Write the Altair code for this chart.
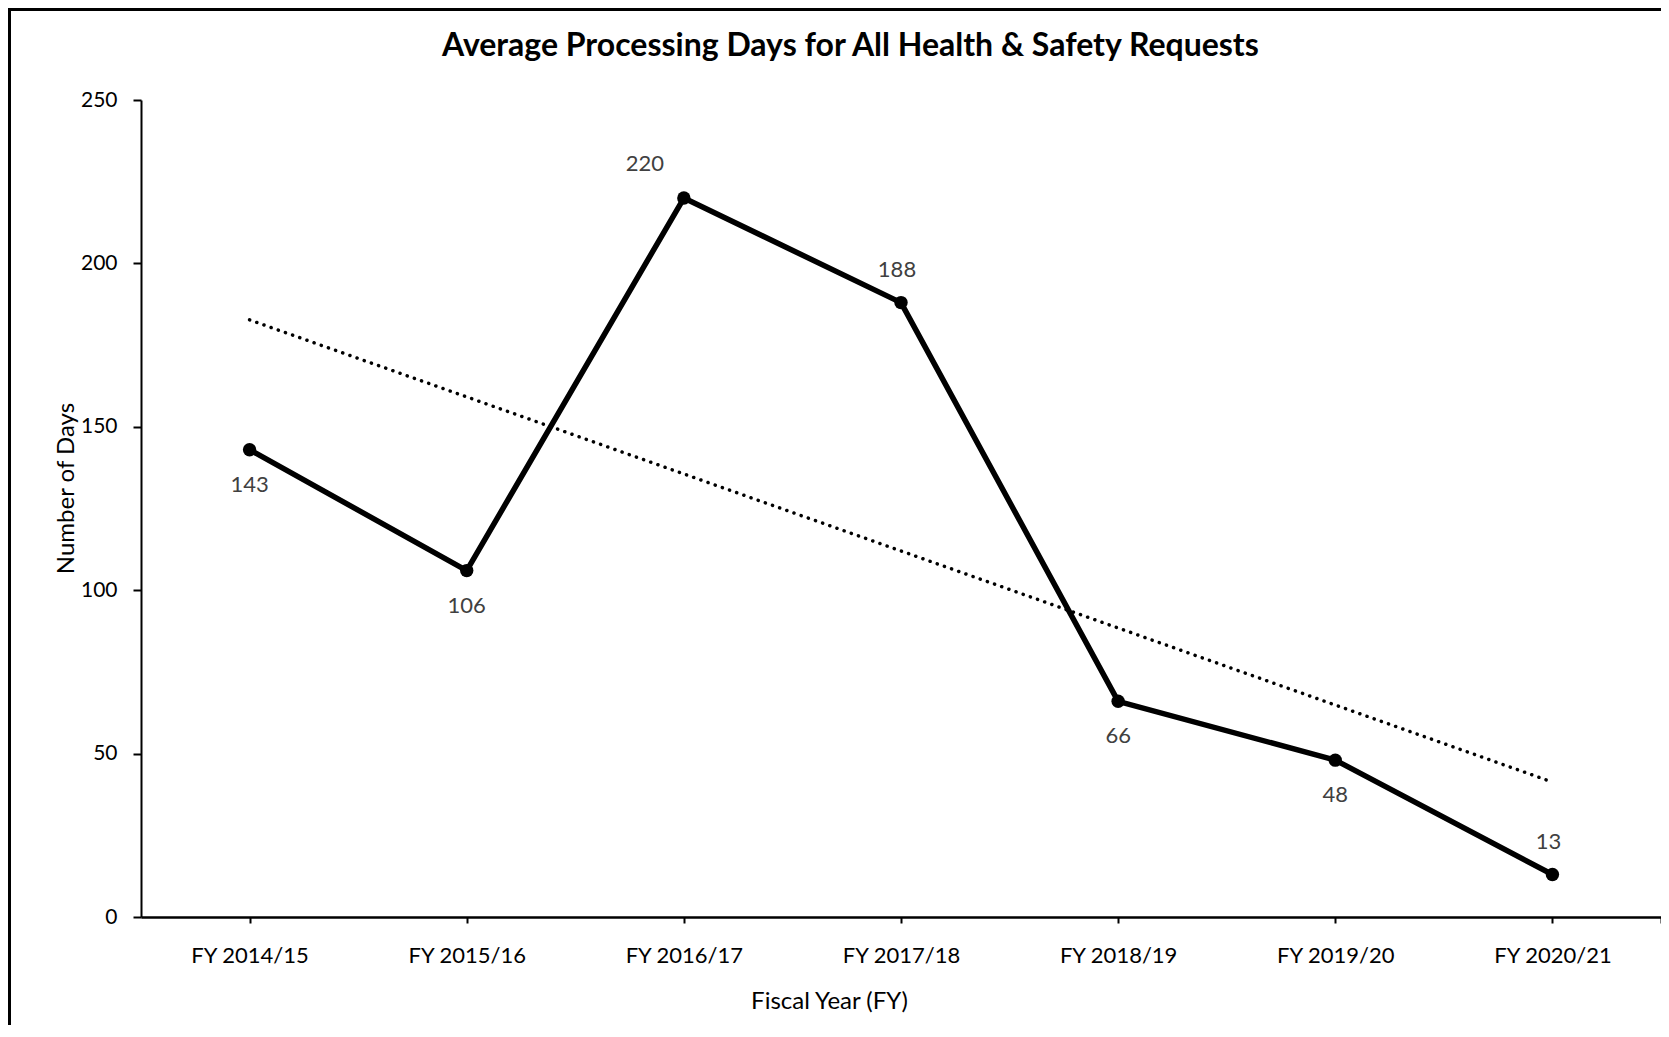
import json
import altair as alt
import pandas as pd

# ---- data ----
chart_title = "Average Processing Days for All Health & Safety Requests"
fiscal_years = ["FY 2014/15", "FY 2015/16", "FY 2016/17", "FY 2017/18",
                "FY 2018/19", "FY 2019/20", "FY 2020/21"]
avg_days = [143, 106, 220, 188, 66, 48, 13]
label_place = ["below", "below", "above-left", "above", "below", "below", "above"]
y_ticks = [0, 50, 100, 150, 200, 250]

df = pd.DataFrame({
    "idx": list(range(len(fiscal_years))),
    "fy": fiscal_years,
    "days": avg_days,
    "place": label_place,
})

FONT = "Lato"
W, H = 1520, 817
PAD_L, PAD_T, PAD_R, PAD_B = 133, 92, 0, 108
n = len(fiscal_years)

label_expr = (f"datum.value > {n - 1} ? '' : "
              f"{json.dumps(fiscal_years)}[datum.value]")

x_enc = alt.X(
    "idx:Q",
    scale=alt.Scale(domain=[-0.5, n - 0.5], nice=False, zero=False),
    axis=alt.Axis(
        title="Fiscal Year (FY)",
        values=list(range(n)) + [n - 0.5],
        labelExpr=label_expr,
        grid=False,
        domainColor="black", domainWidth=2.5,
        tickColor="black", tickWidth=2, tickSize=6,
        labelFont=FONT, labelFontSize=22, labelColor="black",
        labelPadding=39, labelBaseline="alphabetic",
        labelFlush=False, labelOverlap=False,
        titleFont=FONT, titleFontSize=24, titleFontWeight="normal",
        titleColor="black", titleX=688, titleY=91,
        titleBaseline="alphabetic", titleAlign="center",
    ),
)

y_enc = alt.Y(
    "days:Q",
    scale=alt.Scale(domain=[0, 250], nice=False, zero=True),
    axis=alt.Axis(
        title="Number of Days",
        values=y_ticks,
        grid=False,
        domainColor="black", domainWidth=2,
        tickColor="black", tickWidth=2, tickSize=8,
        labelFont=FONT, labelFontSize=21, labelColor="black",
        labelPadding=16,
        titleFont=FONT, titleFontSize=24, titleFontWeight="normal",
        titleColor="black", titleAngle=270, titleX=-68, titleY=388,
        titleBaseline="alphabetic", titleAlign="center",
    ),
)

base = alt.Chart(df)
one_row = pd.DataFrame({"k": [0]})

border = alt.Chart(one_row).mark_rect(
    fillOpacity=0, stroke="black", strokeWidth=3
).encode(
    x=alt.value(-PAD_L + 1.5), x2=alt.value(W + 60),
    y=alt.value(-PAD_T + 1.5), y2=alt.value(H + 300),
)

title = alt.Chart(one_row).mark_text(
    text=chart_title, font=FONT, fontSize=32, fontWeight="bold",
    color="black", align="left", baseline="alphabetic"
).encode(x=alt.value(301), y=alt.value(-44))

trend = base.transform_regression("idx", "days").mark_line(
    color="black", strokeWidth=3.5, strokeDash=[0.1, 7.5], strokeCap="round"
).encode(x=x_enc, y=y_enc)

line = base.mark_line(color="black", strokeWidth=5.5, strokeJoin="round").encode(
    x=x_enc, y=y_enc
)

points = base.mark_circle(color="black", size=180, opacity=1).encode(
    x=x_enc, y=y_enc
)

def labels(place, dx, dy):
    return base.transform_filter(alt.datum.place == place).mark_text(
        font=FONT, fontSize=22, color="#404040", dx=dx, dy=dy,
        baseline="middle", align="center"
    ).encode(x=x_enc, y=y_enc, text="days:Q")

lab_below = labels("below", 0, 35)
lab_above = labels("above", -4, -33)
lab_left = labels("above-left", -39, -34)

chart = alt.layer(
    border, title, trend, line, points, lab_below, lab_above, lab_left
).properties(
    width=W, height=H,
    autosize=alt.AutoSizeParams(type="none"),
    padding={"left": PAD_L, "top": PAD_T, "right": PAD_R, "bottom": PAD_B},
).configure(
    background="white",
    view=alt.ViewConfig(strokeWidth=0),
)

chart.save("out.html", embed_options={"renderer": "svg", "actions": False})
